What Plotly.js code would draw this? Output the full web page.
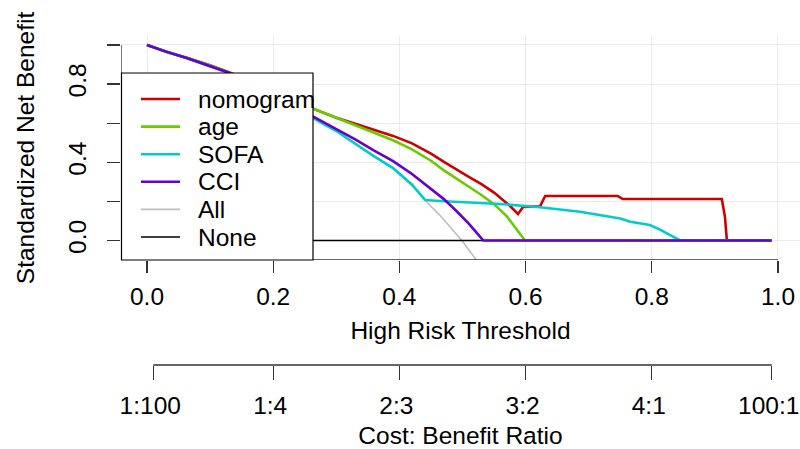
<!DOCTYPE html>
<html>
<head>
<meta charset="utf-8">
<script src="https://cdn.plot.ly/plotly-3.0.1.min.js"></script>
<style>html,body{margin:0;padding:0;background:#fff;}#chart{width:800px;height:449px;}</style>
</head>
<body>
<div id="chart"></div>
<script>
// ---- data ----
const seriesNames = ['nomogram', 'age', 'SOFA', 'CCI', 'All', 'None'];
const seriesColors = ['#CC0000', '#66CC00', '#00CCCC', '#6600CC', '#BEBEBE', '#000000'];

const nomogramX = [0, 0.03, 0.063, 0.1, 0.131, 0.2, 0.265, 0.3, 0.33, 0.36, 0.39, 0.42, 0.45, 0.47, 0.49, 0.51, 0.53, 0.55, 0.565, 0.575, 0.588, 0.596, 0.623, 0.631, 0.746, 0.754, 0.911, 0.916, 0.919, 0.99];
const nomogramY = [1.0, 0.967, 0.935, 0.897, 0.86, 0.77, 0.672, 0.628, 0.597, 0.565, 0.535, 0.497, 0.444, 0.403, 0.362, 0.325, 0.288, 0.245, 0.205, 0.178, 0.136, 0.171, 0.175, 0.228, 0.228, 0.212, 0.212, 0.12, 0, 0];

const ageX = [0, 0.03, 0.063, 0.1, 0.131, 0.2, 0.265, 0.3, 0.33, 0.36, 0.39, 0.42, 0.45, 0.47, 0.49, 0.51, 0.53, 0.55, 0.57, 0.599, 0.99];
const ageY = [1.0, 0.966, 0.934, 0.895, 0.858, 0.768, 0.673, 0.628, 0.59, 0.55, 0.513, 0.466, 0.408, 0.36, 0.318, 0.275, 0.233, 0.186, 0.125, 0, 0];

const sofaX = [0, 0.03, 0.063, 0.1, 0.131, 0.2, 0.265, 0.3, 0.33, 0.36, 0.39, 0.42, 0.441, 0.464, 0.559, 0.623, 0.686, 0.718, 0.75, 0.766, 0.797, 0.813, 0.829, 0.845, 0.99];
const sofaY = [1.0, 0.965, 0.932, 0.892, 0.855, 0.74, 0.625, 0.56, 0.495, 0.43, 0.37, 0.285, 0.207, 0.202, 0.187, 0.17, 0.147, 0.13, 0.113, 0.096, 0.079, 0.056, 0.028, 0, 0];

const cciX = [0, 0.03, 0.063, 0.1, 0.131, 0.2, 0.265, 0.3, 0.33, 0.36, 0.39, 0.42, 0.45, 0.47, 0.49, 0.51, 0.525, 0.533, 0.99];
const cciY = [1.0, 0.966, 0.933, 0.893, 0.857, 0.745, 0.632, 0.572, 0.517, 0.46, 0.406, 0.34, 0.262, 0.213, 0.152, 0.086, 0.03, 0, 0];

const allX = [0, 0.063, 0.131, 0.2, 0.265, 0.3, 0.33, 0.36, 0.39, 0.42, 0.441, 0.464, 0.499, 0.522];
const allY = [1.0, 0.933, 0.857, 0.75, 0.628, 0.562, 0.497, 0.432, 0.372, 0.287, 0.203, 0.13, 0, -0.1];

const noneX = [0, 0.99];
const noneY = [0, 0];

const thresholdTicks = [0, 0.2, 0.4, 0.6, 0.8, 1.0];
const thresholdLabels = ['0.0', '0.2', '0.4', '0.6', '0.8', '1.0'];
const netBenefitTicks = [0, 0.2, 0.4, 0.6, 0.8, 1.0];
const netBenefitLabels = ['0.0', '', '0.4', '', '0.8', ''];
const costRatioLabels = ['1:100', '1:4', '2:3', '3:2', '4:1', '100:1'];
const costRatioTicks = [1/101, 0.2, 0.4, 0.6, 0.8, 100/101];

// ---- geometry ----
const XR = [-0.0412, 1.0349];
const YR = [-0.0997, 1.046];
const FONT = '"Liberation Sans", Arial, Helvetica, sans-serif';
const FS = 24.5;
const PH = 413; // paper height (449 - top margin)
const py = p => (449 - p) / PH;      // pixel row -> paper y
const px = p => (p - 121) / 679;     // pixel col -> paper x

function line(x, y, i, w) {
  return {x: x, y: y, type: 'scatter', mode: 'lines', name: seriesNames[i],
          line: {color: seriesColors[i], width: w}, hoverinfo: 'skip', showlegend: false};
}

const traces = [
  line(allX, allY, 4, 1.6),
  line(noneX, noneY, 5, 1.4),
  line(nomogramX, nomogramY, 0, 2.6),
  line(ageX, ageY, 1, 2.6),
  line(sofaX, sofaY, 2, 2.6),
  line(cciX, cciY, 3, 2.6),
  {x: costRatioTicks, y: costRatioTicks.map(() => null), xaxis: 'x2', yaxis: 'y', type: 'scatter',
   mode: 'markers', marker: {opacity: 0}, hoverinfo: 'skip', showlegend: false}
];

const shapes = [
  {type: 'line', xref: 'x', yref: 'y', x0: XR[0], x1: 1, y0: YR[0], y1: YR[0], line: {color: '#333', width: 1.3}, layer: 'above'},
  {type: 'line', xref: 'x', yref: 'y', x0: XR[0], x1: XR[0], y0: YR[0], y1: 1, line: {color: '#333', width: 1.3}, layer: 'above'},
  {type: 'line', xref: 'x', yref: 'paper', x0: costRatioTicks[0], x1: costRatioTicks[5], y0: py(365), y1: py(365), line: {color: '#333', width: 1.3}},
  {type: 'rect', xref: 'paper', yref: 'paper', x0: px(121.5), x1: px(313), y0: py(260), y1: py(73),
   fillcolor: '#ffffff', line: {color: '#000', width: 1.2}, layer: 'above'}
];
const annotations = [];
for (let i = 0; i < seriesNames.length; i++) {
  const rowY = py(99 + i * 27.6);
  shapes.push({type: 'line', xref: 'paper', yref: 'paper', x0: px(141), x1: px(180), y0: rowY, y1: rowY,
               line: {color: seriesColors[i], width: i < 4 ? 2.6 : 1.6}, layer: 'above'});
  annotations.push({xref: 'paper', yref: 'paper', x: px(196), y: rowY, xanchor: 'left', yanchor: 'middle',
                    text: seriesNames[i], showarrow: false, font: {family: FONT, size: FS, color: '#000'}});
}

const layout = {
  width: 800, height: 449,
  margin: {l: 121, r: 0, t: 36, b: 0, pad: 0},
  paper_bgcolor: '#ffffff', plot_bgcolor: '#ffffff',
  font: {family: FONT, size: FS, color: '#000'},
  showlegend: false,
  xaxis: {
    range: XR, anchor: 'y', tickvals: thresholdTicks, ticktext: thresholdLabels,
    ticks: 'outside', ticklen: 12, tickwidth: 1.3, tickcolor: '#333', ticklabelstandoff: 3,
    showgrid: true, gridcolor: '#ebebeb', gridwidth: 1, zeroline: false, showline: false,
    title: {text: 'High Risk Threshold', font: {family: FONT, size: FS}, standoff: 12},
    fixedrange: true
  },
  yaxis: {
    domain: [py(260), 1], range: YR, tickvals: netBenefitTicks, ticktext: netBenefitLabels,
    tickangle: -90, ticks: 'outside', ticklen: 13, tickwidth: 1.3, tickcolor: '#333', ticklabelstandoff: 11,
    showgrid: true, gridcolor: '#ebebeb', gridwidth: 1, zeroline: false, showline: false,
    title: {text: 'Standardized Net Benefit', font: {family: FONT, size: FS}, standoff: 22},
    fixedrange: true
  },
  xaxis2: {
    overlaying: 'x', anchor: 'free', position: py(365), side: 'bottom', range: XR,
    tickvals: costRatioTicks, ticktext: costRatioLabels, ticklabeloverflow: 'allow', ticklabelshift: -3,
    ticks: 'outside', ticklen: 14, tickwidth: 1.3, tickcolor: '#333', ticklabelstandoff: 5,
    showgrid: false, zeroline: false, showline: false,
    title: {text: 'Cost: Benefit Ratio', font: {family: FONT, size: FS}, standoff: 14},
    fixedrange: true
  },
  shapes: shapes,
  annotations: annotations
};

Plotly.newPlot('chart', traces, layout, {staticPlot: true, displayModeBar: false});
</script>
</body>
</html>
